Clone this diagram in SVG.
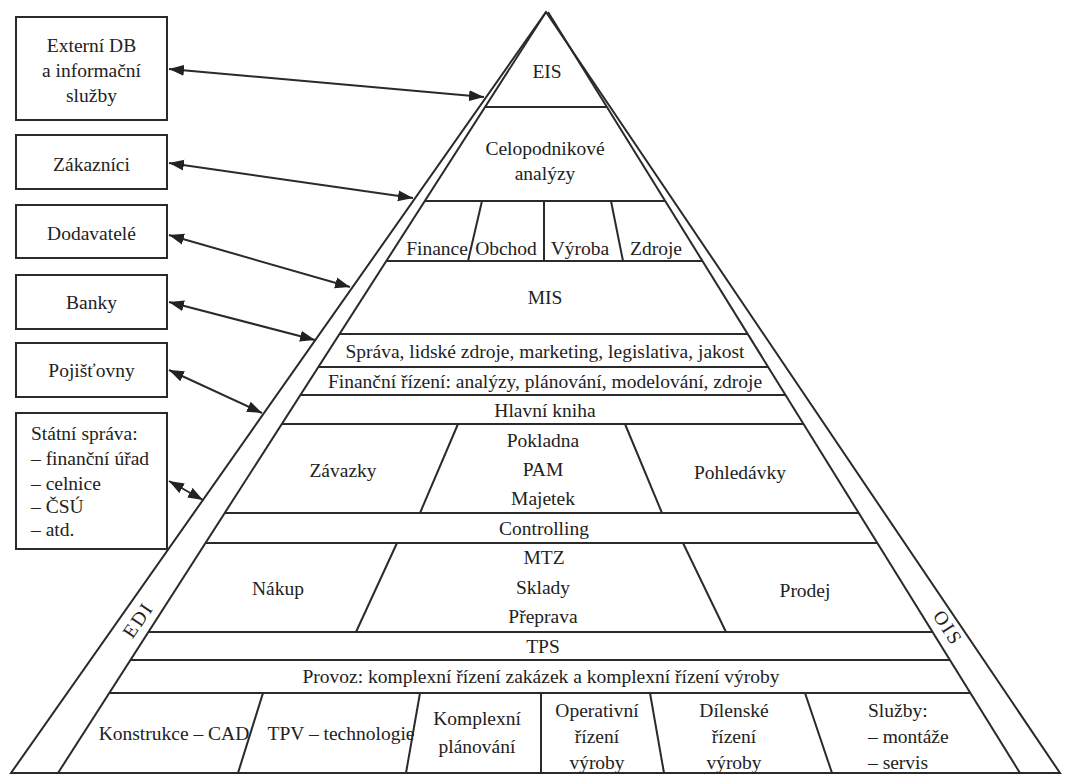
<svg xmlns="http://www.w3.org/2000/svg" width="1067" height="778" viewBox="0 0 1067 778">
<defs>
<style>
.ln{fill:none;stroke:#2a2a2a;stroke-width:2;stroke-linejoin:miter}
.box{fill:#fff;stroke:#2a2a2a;stroke-width:2}
.t{font-family:"Liberation Serif","Times New Roman",serif;font-size:19.5px;fill:#222;text-anchor:middle;dominant-baseline:central}
.tl{font-family:"Liberation Serif","Times New Roman",serif;font-size:19.5px;fill:#222;text-anchor:start;dominant-baseline:central}
.ar{fill:none;stroke:#2a2a2a;stroke-width:2;marker-start:url(#ah);marker-end:url(#ah)}
</style>
<marker id="ah" markerUnits="userSpaceOnUse" markerWidth="16" markerHeight="12" refX="15" refY="6" orient="auto-start-reverse">
<path d="M0,0.5 L15,6 L0,11.5 z" fill="#222"/>
</marker>
</defs>
<rect width="1067" height="778" fill="#fff"/>

<g id="pyramid-frame">
<polygon class="ln" points="546,12 11,773 1060,773"/>
<line class="ln" x1="546" y1="12" x2="58" y2="773"/>
<line class="ln" x1="548" y1="12" x2="1020" y2="773"/>
<!-- layer lines -->
<line class="ln" x1="485" y1="107" x2="607" y2="107"/>
<line class="ln" x1="425" y1="201" x2="665" y2="201"/>
<line class="ln" x1="386" y1="261" x2="702" y2="261"/>
<line class="ln" x1="340" y1="334" x2="748" y2="334"/>
<line class="ln" x1="318" y1="367" x2="768" y2="367"/>
<line class="ln" x1="300" y1="395" x2="786" y2="395"/>
<line class="ln" x1="282" y1="424" x2="803" y2="424"/>
<line class="ln" x1="225" y1="513" x2="859" y2="513"/>
<line class="ln" x1="206" y1="543" x2="877" y2="543"/>
<line class="ln" x1="149" y1="632" x2="932" y2="632"/>
<line class="ln" x1="131" y1="660" x2="950" y2="660"/>
<line class="ln" x1="110" y1="693" x2="970" y2="693"/>
<!-- dividers -->
<line class="ln" x1="482" y1="201" x2="468" y2="261"/>
<line class="ln" x1="544" y1="201" x2="544" y2="261"/>
<line class="ln" x1="611" y1="201" x2="623" y2="261"/>
<line class="ln" x1="458" y1="424" x2="420" y2="513"/>
<line class="ln" x1="625" y1="424" x2="662" y2="513"/>
<line class="ln" x1="397" y1="543" x2="356" y2="632"/>
<line class="ln" x1="683" y1="543" x2="726" y2="632"/>
<line class="ln" x1="263" y1="693" x2="238" y2="773"/>
<line class="ln" x1="420" y1="693" x2="406" y2="773"/>
<line class="ln" x1="541" y1="693" x2="541" y2="773"/>
<line class="ln" x1="650" y1="693" x2="664" y2="773"/>
<line class="ln" x1="805" y1="693" x2="832" y2="773"/>
</g>

<g id="band-labels">
<text class="t" transform="translate(138,620) rotate(-56)" letter-spacing="2">EDI</text>
<text class="t" transform="translate(948,628) rotate(57)" letter-spacing="2">OIS</text>
</g>

<g id="eis"><text class="t" x="547" y="71">EIS</text></g>
<g id="celopodnikove"><text class="t" x="545" y="148">Celopodnikové</text><text class="t" x="545" y="173">analýzy</text></g>
<g id="finance"><text class="t" x="437" y="248">Finance</text></g>
<g id="obchod"><text class="t" x="506" y="248">Obchod</text></g>
<g id="vyroba"><text class="t" x="580" y="248">Výroba</text></g>
<g id="zdroje"><text class="t" x="656" y="248">Zdroje</text></g>
<g id="mis"><text class="t" x="545" y="297">MIS</text></g>
<g id="sprava"><text class="t" x="545" y="351">Správa, lidské zdroje, marketing, legislativa, jakost</text></g>
<g id="financni-rizeni"><text class="t" x="545" y="381">Finanční řízení: analýzy, plánování, modelování, zdroje</text></g>
<g id="hlavni-kniha"><text class="t" x="545" y="410">Hlavní kniha</text></g>
<g id="zavazky"><text class="t" x="343" y="470">Závazky</text></g>
<g id="pokladna"><text class="t" x="543" y="440">Pokladna</text><text class="t" x="543" y="469">PAM</text><text class="t" x="543" y="498">Majetek</text></g>
<g id="pohledavky"><text class="t" x="740" y="472">Pohledávky</text></g>
<g id="controlling"><text class="t" x="544" y="528">Controlling</text></g>
<g id="nakup"><text class="t" x="278" y="588">Nákup</text></g>
<g id="mtz"><text class="t" x="544" y="557">MTZ</text><text class="t" x="543" y="587">Sklady</text><text class="t" x="543" y="616">Přeprava</text></g>
<g id="prodej"><text class="t" x="805" y="590">Prodej</text></g>
<g id="tps"><text class="t" x="543" y="646">TPS</text></g>
<g id="provoz"><text class="t" x="541" y="676">Provoz: komplexní řízení zakázek a komplexní řízení výroby</text></g>
<g id="konstrukce"><text class="t" x="174" y="733">Konstrukce – CAD</text></g>
<g id="tpv"><text class="t" x="341" y="733">TPV – technologie</text></g>
<g id="komplexni-planovani"><text class="t" x="477" y="718">Komplexní</text><text class="t" x="477" y="746">plánování</text></g>
<g id="operativni"><text class="t" x="597" y="710">Operativní</text><text class="t" x="597" y="736">řízení</text><text class="t" x="597" y="762">výroby</text></g>
<g id="dilenske"><text class="t" x="734" y="710">Dílenské</text><text class="t" x="734" y="736">řízení</text><text class="t" x="734" y="762">výroby</text></g>
<g id="sluzby"><text class="tl" x="868" y="710">Služby:</text><text class="tl" x="868" y="736">– montáže</text><text class="tl" x="868" y="762">– servis</text></g>

<g id="externi-db"><rect class="box" x="16" y="17" width="151" height="103"/><text class="t" x="91.5" y="45">Externí DB</text><text class="t" x="91.5" y="70">a informační</text><text class="t" x="91.5" y="95">služby</text></g>
<g id="zakaznici"><rect class="box" x="16" y="135" width="151" height="54"/><text class="t" x="91.5" y="164">Zákazníci</text></g>
<g id="dodavatele"><rect class="box" x="16" y="205" width="151" height="53"/><text class="t" x="91.5" y="233">Dodavatelé</text></g>
<g id="banky"><rect class="box" x="16" y="275" width="151" height="54"/><text class="t" x="91.5" y="302">Banky</text></g>
<g id="pojistovny"><rect class="box" x="16" y="343" width="151" height="54"/><text class="t" x="91.5" y="370">Pojišťovny</text></g>
<g id="statni-sprava"><rect class="box" x="16" y="413" width="151" height="136"/><text class="tl" x="31" y="433">Státní správa:</text><text class="tl" x="31" y="458">– finanční úřad</text><text class="tl" x="31" y="483">– celnice</text><text class="tl" x="31" y="506">– ČSÚ</text><text class="tl" x="31" y="529">– atd.</text></g>

<g id="connectors">
<line class="ar" x1="169" y1="69" x2="484" y2="97"/>
<line class="ar" x1="169" y1="163" x2="413" y2="198"/>
<line class="ar" x1="169" y1="235" x2="350" y2="287"/>
<line class="ar" x1="169" y1="302" x2="315" y2="340"/>
<line class="ar" x1="169" y1="370" x2="262" y2="413"/>
<line class="ar" x1="169" y1="481" x2="203" y2="500"/>
</g>
</svg>
